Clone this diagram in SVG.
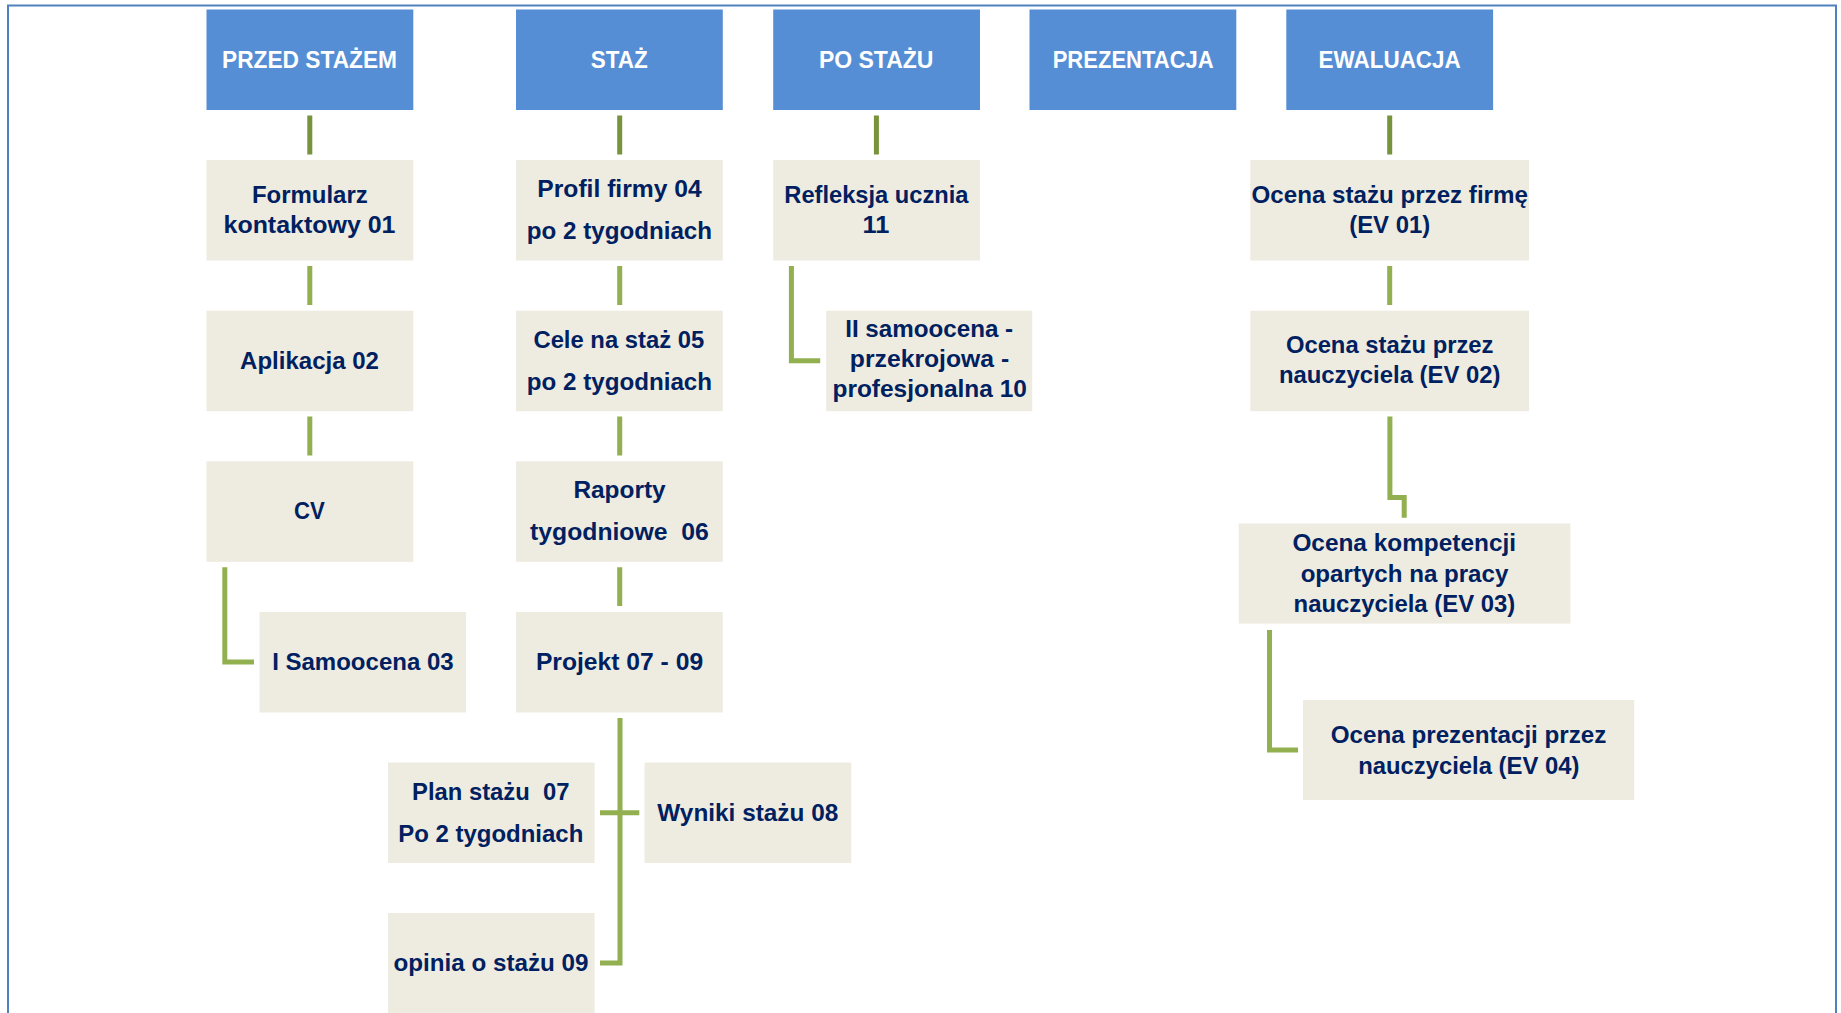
<svg xmlns="http://www.w3.org/2000/svg" width="1841" height="1013" viewBox="0 0 1841 1013">
<style>
  .frame{fill:none;stroke:#4F81BD;stroke-width:2}
  .hdr rect{fill:#558ED5}
  .box rect{fill:#EEECE1}
  text{font-family:"Liberation Sans",Arial,sans-serif;font-weight:bold;font-size:24px;text-anchor:middle;white-space:pre}
  .hdr text{fill:#FFFFFF}
  .box text{fill:#002060}
  .c1{fill:none;stroke:#77933C;stroke-width:5;stroke-linecap:butt;stroke-linejoin:miter}
  .c2{fill:none;stroke:#92B050;stroke-width:5;stroke-linecap:butt;stroke-linejoin:miter}
</style>
<rect x="0" y="0" width="1841" height="1013" fill="#FFFFFF"/>
<rect class="frame" x="8" y="5.5" width="1828" height="1020"/>

<g id="connectors">
  <path class="c1" d="M309.8 115.5V154.5M619.7 115.5V154.5M876.4 115.5V154.5M1389.7 115.5V154.5"/>
  <path class="c2" d="M309.8 266V305M309.8 416.4V455.5"/>
  <path class="c2" d="M224.8 567.3V662H254"/>
  <path class="c2" d="M619.7 266V305M619.7 416.4V455.5M619.7 567.3V606"/>
  <path class="c2" d="M620 718V963H600"/>
  <path class="c2" d="M600 812.8H639.3"/>
  <path class="c2" d="M791.4 266V360.7H820.2"/>
  <path class="c2" d="M1389.7 266V305"/>
  <path class="c2" d="M1389.9 416.4V497.5H1404.2V517.7"/>
  <path class="c2" d="M1269.5 629.9V750H1298"/>
</g>

<g id="h-przed" class="hdr"><rect x="206.5" y="9.5" width="206.8" height="100.5"/><text x="309.5" y="68" textLength="175" lengthAdjust="spacingAndGlyphs">PRZED STAŻEM</text></g>
<g id="h-staz" class="hdr"><rect x="516" y="9.5" width="206.8" height="100.5"/><text x="619.3" y="68" textLength="57" lengthAdjust="spacingAndGlyphs">STAŻ</text></g>
<g id="h-po" class="hdr"><rect x="773.2" y="9.5" width="206.8" height="100.5"/><text x="876.2" y="68" textLength="114.6" lengthAdjust="spacingAndGlyphs">PO STAŻU</text></g>
<g id="h-prez" class="hdr"><rect x="1029.5" y="9.5" width="206.8" height="100.5"/><text x="1133.2" y="68" textLength="161" lengthAdjust="spacingAndGlyphs">PREZENTACJA</text></g>
<g id="h-ewal" class="hdr"><rect x="1286.3" y="9.5" width="206.8" height="100.5"/><text x="1389.7" y="68" textLength="142.2" lengthAdjust="spacingAndGlyphs">EWALUACJA</text></g>

<g id="n-formularz" class="box"><rect x="206.5" y="160" width="206.8" height="100.5"/>
  <text x="309.8" y="203.3" textLength="115.8" lengthAdjust="spacingAndGlyphs">Formularz</text>
  <text x="309.5" y="233.3" textLength="172" lengthAdjust="spacingAndGlyphs">kontaktowy 01</text></g>
<g id="n-aplikacja" class="box"><rect x="206.5" y="310.7" width="206.8" height="100.5"/>
  <text x="309.5" y="369" textLength="138.8" lengthAdjust="spacingAndGlyphs">Aplikacja 02</text></g>
<g id="n-cv" class="box"><rect x="206.5" y="461.3" width="206.8" height="100.5"/>
  <text x="309.5" y="519" textLength="30.8" lengthAdjust="spacingAndGlyphs">CV</text></g>
<g id="n-samoocena1" class="box"><rect x="259.5" y="612" width="206.5" height="100.5"/>
  <text x="362.9" y="669.7" textLength="181.5" lengthAdjust="spacingAndGlyphs">I Samoocena 03</text></g>

<g id="n-profil" class="box"><rect x="516" y="160" width="206.8" height="100.5"/>
  <text x="619.5" y="196.7" textLength="164.4" lengthAdjust="spacingAndGlyphs">Profil firmy 04</text>
  <text x="619.4" y="239" textLength="185.3" lengthAdjust="spacingAndGlyphs">po 2 tygodniach</text></g>
<g id="n-cele" class="box"><rect x="516" y="310.7" width="206.8" height="100.5"/>
  <text x="618.8" y="347.7" textLength="170.7" lengthAdjust="spacingAndGlyphs">Cele na staż 05</text>
  <text x="619.4" y="390" textLength="185.3" lengthAdjust="spacingAndGlyphs">po 2 tygodniach</text></g>
<g id="n-raporty" class="box"><rect x="516" y="461.3" width="206.8" height="100.5"/>
  <text x="619.5" y="497.7" textLength="92.2" lengthAdjust="spacingAndGlyphs">Raporty</text>
  <text x="619.4" y="539.6" textLength="178.7" lengthAdjust="spacingAndGlyphs">tygodniowe  06</text></g>
<g id="n-projekt" class="box"><rect x="516" y="612" width="206.8" height="100.5"/>
  <text x="619.5" y="669.7" textLength="167.2" lengthAdjust="spacingAndGlyphs">Projekt 07 - 09</text></g>
<g id="n-plan" class="box"><rect x="388" y="762.5" width="206.6" height="100.5"/>
  <text x="490.8" y="799.5" textLength="157.4" lengthAdjust="spacingAndGlyphs">Plan stażu  07</text>
  <text x="490.8" y="841.8" textLength="185" lengthAdjust="spacingAndGlyphs">Po 2 tygodniach</text></g>
<g id="n-wyniki" class="box"><rect x="644.5" y="762.5" width="206.8" height="100.5"/>
  <text x="747.8" y="820.7" textLength="181" lengthAdjust="spacingAndGlyphs">Wyniki stażu 08</text></g>
<g id="n-opinia" class="box"><rect x="388" y="913" width="206.6" height="110"/>
  <text x="491" y="970.8" textLength="195" lengthAdjust="spacingAndGlyphs">opinia o stażu 09</text></g>

<g id="n-refleksja" class="box"><rect x="773.2" y="160" width="206.8" height="100.5"/>
  <text x="876.4" y="202.7" textLength="184.2" lengthAdjust="spacingAndGlyphs">Refleksja ucznia</text>
  <text x="876" y="233.3" textLength="26.8" lengthAdjust="spacingAndGlyphs">11</text></g>
<g id="n-samoocena2" class="box"><rect x="826.2" y="310.7" width="206" height="100.5"/>
  <text x="929.2" y="337.3" textLength="168" lengthAdjust="spacingAndGlyphs">II samoocena -</text>
  <text x="929.5" y="366.7" textLength="159.3" lengthAdjust="spacingAndGlyphs">przekrojowa -</text>
  <text x="929.7" y="396.7" textLength="194.5" lengthAdjust="spacingAndGlyphs">profesjonalna 10</text></g>

<g id="n-ocena1" class="box"><rect x="1250.3" y="160" width="278.8" height="100.5"/>
  <text x="1389.7" y="202.7" textLength="276.4" lengthAdjust="spacingAndGlyphs">Ocena stażu przez firmę</text>
  <text x="1389.7" y="233.3" textLength="81" lengthAdjust="spacingAndGlyphs">(EV 01)</text></g>
<g id="n-ocena2" class="box"><rect x="1250.3" y="310.7" width="278.8" height="100.5"/>
  <text x="1389.7" y="353.3" textLength="207.6" lengthAdjust="spacingAndGlyphs">Ocena stażu przez</text>
  <text x="1389.7" y="383.3" textLength="221.6" lengthAdjust="spacingAndGlyphs">nauczyciela (EV 02)</text></g>
<g id="n-ocena3" class="box"><rect x="1238.8" y="523.5" width="331.6" height="100.1"/>
  <text x="1404.2" y="551.3" textLength="223.6" lengthAdjust="spacingAndGlyphs">Ocena kompetencji</text>
  <text x="1404.5" y="581.8" textLength="207.7" lengthAdjust="spacingAndGlyphs">opartych na pracy</text>
  <text x="1404.4" y="612.3" textLength="221.6" lengthAdjust="spacingAndGlyphs">nauczyciela (EV 03)</text></g>
<g id="n-ocena4" class="box"><rect x="1303" y="700" width="331.2" height="100"/>
  <text x="1468.6" y="743.2" textLength="275.6" lengthAdjust="spacingAndGlyphs">Ocena prezentacji przez</text>
  <text x="1468.8" y="774" textLength="221.2" lengthAdjust="spacingAndGlyphs">nauczyciela (EV 04)</text></g>
</svg>
